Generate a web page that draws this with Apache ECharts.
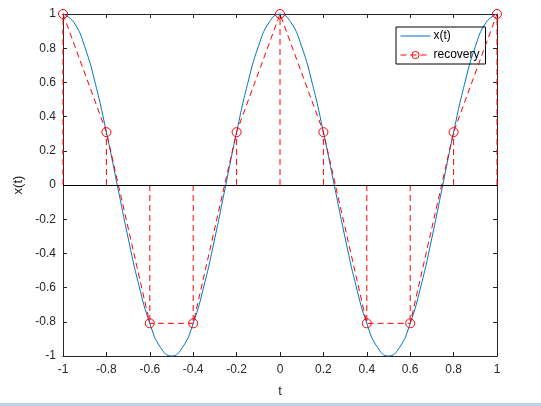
<!DOCTYPE html>
<html>
<head>
<meta charset="utf-8">
<script src="https://cdn.jsdelivr.net/npm/echarts@6/dist/echarts.min.js"></script>
<style>
  html, body { margin: 0; padding: 0; background: #fff; }
  #chart { width: 541px; height: 403px; }
  #strip { width: 541px; height: 3px; background: #bfd3eb; }
</style>
</head>
<body>
<div id="chart"></div>
<div id="strip"></div>
<script>
// continuous signal x(t)
const tCurve = [-1, -0.95, -0.9, -0.85, -0.8, -0.75, -0.7, -0.65, -0.6, -0.55, -0.5,
  -0.45, -0.4, -0.35, -0.3, -0.25, -0.2, -0.15, -0.1, -0.05, 0,
  0.05, 0.1, 0.15, 0.2, 0.25, 0.3, 0.35, 0.4, 0.45, 0.5,
  0.55, 0.6, 0.65, 0.7, 0.75, 0.8, 0.85, 0.9, 0.95, 1];
const xCurve = [1, 0.951, 0.809, 0.588, 0.309, 0, -0.309, -0.588, -0.809, -0.951, -1,
  -0.951, -0.809, -0.588, -0.309, 0, 0.309, 0.588, 0.809, 0.951, 1,
  0.951, 0.809, 0.588, 0.309, 0, -0.309, -0.588, -0.809, -0.951, -1,
  -0.951, -0.809, -0.588, -0.309, 0, 0.309, 0.588, 0.809, 0.951, 1];

// samples (red circles)
const tSample = [-1, -0.8, -0.6, -0.4, -0.2, 0, 0.2, 0.4, 0.6, 0.8, 1];
const xSample = [1, 0.309, -0.809, -0.809, 0.309, 1, 0.309, -0.809, -0.809, 0.309, 1];

const axisColor = '#262626';
const fontFamily = '"Liberation Sans", Arial, sans-serif';
const fmt = v => String(+v.toFixed(1));

const chart = echarts.init(document.getElementById('chart'));

const curveData = tCurve.map((t, i) => [t, xCurve[i]]);
const sampleData = tSample.map((t, i) => [t, xSample[i]]);

const baseX = {
  type: 'value', min: -1, max: 1, interval: 0.2,
  axisLine: { show: true, onZero: false, lineStyle: { color: axisColor, width: 1 } },
  axisTick: { show: true, inside: true, length: 4, lineStyle: { color: axisColor } },
  splitLine: { show: false }
};
const baseY = {
  type: 'value', min: -1, max: 1, interval: 0.2,
  axisLine: { show: true, onZero: false, lineStyle: { color: axisColor, width: 1 } },
  axisTick: { show: true, inside: true, length: 4, lineStyle: { color: axisColor } },
  splitLine: { show: false }
};

chart.setOption({
  animation: false,
  grid: { left: 63, right: 44, top: 14, bottom: 47 },
  legend: {
    data: [
      { name: 'x(t)', itemStyle: { opacity: 0 }, lineStyle: { width: 1, color: '#0072bd' } },
      {
        name: 'recovery',
        itemStyle: { color: 'rgba(255,255,255,0)', borderColor: '#ff0000', borderWidth: 1 },
        lineStyle: { width: 1, color: '#ff0000', type: [6, 4] }
      }
    ],
    orient: 'vertical',
    left: 396, top: 27,
    itemWidth: 30, itemHeight: 9, itemGap: 7,
    padding: [3, 6, 3, 4],
    borderColor: '#000', borderWidth: 1, borderRadius: 0,
    textStyle: { fontFamily, fontSize: 12, color: '#000', padding: [0, 0, 0, -2] }
  },
  xAxis: [
    Object.assign({}, baseX, {
      position: 'bottom',
      name: 't', nameLocation: 'middle', nameGap: 29,
      nameTextStyle: { fontFamily, fontSize: 13, color: axisColor },
      axisLabel: { formatter: fmt, fontFamily, fontSize: 12, color: axisColor, margin: 8 }
    }),
    Object.assign({}, baseX, { position: 'top', axisLabel: { show: false } })
  ],
  yAxis: [
    Object.assign({}, baseY, {
      position: 'left',
      name: 'x(t)', nameLocation: 'middle', nameGap: 34,
      nameTextStyle: { fontFamily, fontSize: 13, color: axisColor },
      axisLabel: { formatter: fmt, fontFamily, fontSize: 12, color: axisColor, margin: 7 }
    }),
    Object.assign({}, baseY, { position: 'right', axisLabel: { show: false } })
  ],
  series: [
    {
      name: 'x(t)',
      type: 'line',
      data: curveData,
      smooth: true,
      showSymbol: false,
      symbol: 'none',
      lineStyle: { color: '#0072bd', width: 1 },
      itemStyle: { color: '#0072bd' },
      z: 3,
      markLine: {
        silent: true,
        symbol: 'none',
        label: { show: false },
        lineStyle: { color: '#000', type: 'solid', width: 1 },
        data: [{ yAxis: 0 }]
      }
    },
    {
      name: 'stems',
      type: 'custom',
      data: sampleData,
      z: 2,
      renderItem: (params, api) => {
        const p0 = api.coord([api.value(0), 0]);
        const p1 = api.coord([api.value(0), api.value(1)]);
        return {
          type: 'line',
          shape: { x1: p0[0], y1: p0[1], x2: p1[0], y2: p1[1] },
          style: { stroke: '#ff0000', lineWidth: 1, lineDash: [6, 4] }
        };
      }
    },
    {
      name: 'recovery',
      type: 'line',
      data: sampleData,
      symbol: 'circle',
      symbolSize: 9,
      showAllSymbol: true,
      lineStyle: { color: '#ff0000', width: 1, type: [6, 4] },
      itemStyle: { color: 'rgba(255,255,255,0)', borderColor: '#ff0000', borderWidth: 1 },
      z: 4
    }
  ]
});
</script>
</body>
</html>
